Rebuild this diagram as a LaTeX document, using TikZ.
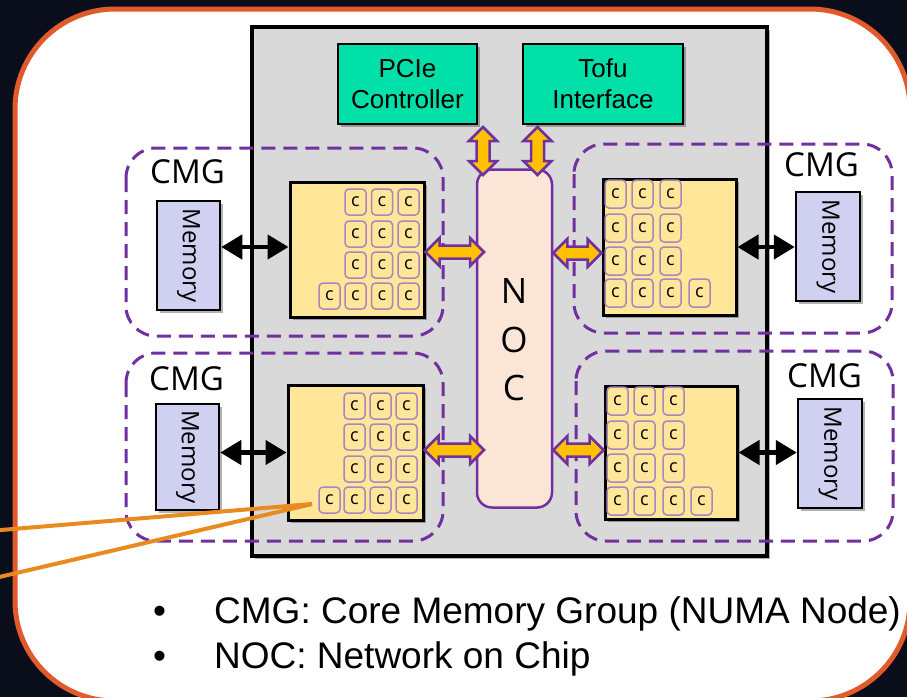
\documentclass[tikz,border=0pt]{standalone}
\usepackage{fontspec}
\setmainfont{Liberation Sans}
\newfontfamily\uifont{Open Sans}
\usetikzlibrary{shadows,arrows.meta,calc}

\definecolor{bgnavy}{HTML}{0A0E1A}
\definecolor{panelorange}{HTML}{E05A2B}
\definecolor{chipgray}{HTML}{D9D9D9}
\definecolor{ifgreen}{HTML}{00E0A8}
\definecolor{coreyellow}{HTML}{FFE699}
\definecolor{memlav}{HTML}{D0D0F0}
\definecolor{nocpeach}{HTML}{FBE5D6}
\definecolor{cmgpurple}{HTML}{7030A0}
\definecolor{corepurple}{HTML}{A886BE}
\definecolor{busgold}{HTML}{FFC000}
\definecolor{calloutorange}{HTML}{E98A1E}

% fat two-headed bus arrow between two points (outlined polygon)
\newcommand\busarrow[2]{%
  \coordinate (ba-a) at ($(#1)!14pt!(#2)$);
  \coordinate (ba-b) at ($(#2)!14pt!(#1)$);
  \path[bus] (#1)
    -- ($(ba-a)!14pt!90:(#2)$) -- ($(ba-a)!6.5pt!90:(#2)$)
    -- ($(ba-b)!6.5pt!-90:(#1)$) -- ($(ba-b)!14pt!-90:(#1)$)
    -- (#2)
    -- ($(ba-b)!14pt!90:(#1)$) -- ($(ba-b)!6.5pt!90:(#1)$)
    -- ($(ba-a)!6.5pt!-90:(#2)$) -- ($(ba-a)!14pt!-90:(#2)$)
    -- cycle;
}

\begin{document}
\begin{tikzpicture}[x=1pt,y=-1pt,
  shade/.style={drop shadow={shadow xshift=3pt,shadow yshift=-3pt,opacity=0.3,fill=black}},
  chipbox/.style={draw=black,line width=4,fill=chipgray,inner sep=0,shade},
  ifbox/.style={draw=black,line width=2.5,fill=ifgreen,inner sep=0,shade,align=center,
    font=\fontsize{26}{31}\selectfont},
  coreblock/.style={draw=black,line width=3,fill=coreyellow,inner sep=0,shade},
  corecell/.style={draw=corepurple,line width=1.5,rounded corners=4,inner sep=0,
    minimum width=21,font=\uifont\fontsize{18}{18}\selectfont},
  membox/.style={draw=black,line width=2.5,fill=memlav,inner sep=0,shade},
  memtext/.style={rotate=-90,inner sep=0,font=\uifont\fontsize{24}{24}\selectfont},
  nocbox/.style={draw=cmgpurple,line width=2.5,fill=nocpeach,rounded corners=15,inner sep=0},
  noctext/.style={inner sep=0,font=\uifont\fontsize{35}{35}\selectfont},
  cmgframe/.style={draw=cmgpurple,line width=3,dash pattern=on 14pt off 8pt,rounded corners=30},
  cmglabel/.style={anchor=base west,inner sep=0,font=\uifont\fontsize{33}{33}\selectfont},
  memlink/.style={line width=4.5,{Triangle[length=21pt,width=24pt]}-{Triangle[length=21pt,width=24pt]}},
  bus/.style={draw=cmgpurple,line width=2.5,fill=busgold,line join=miter},
  callout/.style={draw=calloutorange,line width=4},
  bullettext/.style={anchor=base west,inner sep=0,font=\fontsize{37}{37}\selectfont}
]
\useasboundingbox (0,0) rectangle (907,697);
\fill[bgnavy] (0,0) rectangle (907,697);
\draw[panelorange,line width=5,fill=white,rounded corners=100] (15,9) rectangle (910,701);

% chip
\node[chipbox,minimum width=515,minimum height=529] (chip) at (509.5,291.5) {};

% CMG groups
\draw[cmgframe] (126,148) rectangle (443,336);
\draw[cmgframe] (126,353) rectangle (443,541);
\draw[cmgframe] (574,144) rectangle (892,333);
\draw[cmgframe] (576,351) rectangle (893,541);
\node[cmglabel] (cmgTL) at (150,183) {CMG};
\node[cmglabel] (cmgBL) at (149,390) {CMG};
\node[cmglabel] (cmgTR) at (784,176) {CMG};
\node[cmglabel] (cmgBR) at (787,387) {CMG};

% interfaces
\node[ifbox,minimum width=139,minimum height=80] (pcie) at (407.5,84) {PCIe\\Controller};
\node[ifbox,minimum width=160,minimum height=80] (tofu) at (603,84) {Tofu\\Interface};

% network on chip
\node[nocbox,minimum width=75,minimum height=338] (noc) at (514.5,338.5) {};
\node[noctext] (nocN) at (514,291) {N};
\node[noctext] (nocO) at (514,340) {O};
\node[noctext] (nocC) at (514,388) {C};

% core blocks
\node[coreblock,minimum width=134,minimum height=135] (coreTL) at (357,249.5) {};
\node[coreblock,minimum width=133,minimum height=136] (coreTR) at (669.5,247) {};
\node[coreblock,minimum width=135,minimum height=135] (coreBL) at (355.5,452.5) {};
\node[coreblock,minimum width=132,minimum height=133] (coreBR) at (671,452.5) {};

% cores, top left block
\foreach \y [count=\r] in {189,221,252,283}
  \foreach \x [count=\c] in {345,371.5,398}
    \node[corecell,minimum height=26] (tl\r\c) at (\x+10.5,\y+13) {c};
\node[corecell,minimum height=26] (tl40) at (329.5,296) {c};
% cores, bottom left block
\foreach \y [count=\r] in {393,424,456,487}
  \foreach \x [count=\c] in {344,370,396}
    \node[corecell,minimum height=26] (bl\r\c) at (\x+10.5,\y+13) {c};
\node[corecell,minimum height=26] (bl40) at (329.5,500) {c};
% cores, top right block
\foreach \y [count=\r] in {180,214,247,279}
  \foreach \x [count=\c] in {605,632,660}
    \node[corecell,minimum height=28] (tr\r\c) at (\x+10.5,\y+14) {c};
\node[corecell,minimum height=28] (tr44) at (699.5,293) {c};
% cores, bottom right block
\foreach \y [count=\r] in {387,421,454,487}
  \foreach \x [count=\c] in {607,634,663}
    \node[corecell,minimum height=28] (br\r\c) at (\x+10.5,\y+14) {c};
\node[corecell,minimum height=28] (br44) at (701.5,501) {c};

% memories
\node[membox,minimum width=63,minimum height=109] (memTL) at (188.5,255.5) {};
\node[membox,minimum width=63,minimum height=106] (memBL) at (187.5,457) {};
\node[membox,minimum width=64,minimum height=109] (memTR) at (828,246.5) {};
\node[membox,minimum width=64,minimum height=109] (memBR) at (830,453.5) {};
\node[memtext] (memTLt) at (memTL) {Memory};
\node[memtext] (memBLt) at (memBL) {Memory};
\node[memtext] (memTRt) at (memTR) {Memory};
\node[memtext] (memBRt) at (memBR) {Memory};

% memory links
\draw[memlink] (memTL.east |- 0,247) -- (coreTL.west |- 0,247);
\draw[memlink] (memBL.east |- coreBL.west) -- (coreBL.west);
\draw[memlink] (coreTR.east) -- (memTR.west |- coreTR.east);
\draw[memlink] (coreBR.east) -- (memBR.west |- coreBR.east);

% on-chip buses
\coordinate (busTLa) at (coreTL.east |- 0,252);
\coordinate (busTLb) at (484,252);
\coordinate (busBLa) at (coreBL.east |- 0,450);
\coordinate (busBLb) at (484,450);
\coordinate (busTRa) at (noc.east |- 0,253);
\coordinate (busTRb) at (coreTR.west |- 0,253);
\coordinate (busBRa) at (noc.east |- 0,450);
\coordinate (busBRb) at (coreBR.west |- 0,450);
\coordinate (busPa) at (483,127);
\coordinate (busPb) at (483,175);
\coordinate (busTa) at (537.5,127);
\coordinate (busTb) at (537.5,175);
\busarrow{busTLa}{busTLb}
\busarrow{busBLa}{busBLb}
\busarrow{busTRa}{busTRb}
\busarrow{busBRa}{busBRb}
\busarrow{busPa}{busPb}
\busarrow{busTa}{busTb}

% callout from the bottom left block
\coordinate (calloutTip) at (312,504);
\coordinate (calloutA) at (-5,530.5);
\coordinate (calloutB) at (-5,578);
\draw[callout] (calloutA) -- (calloutTip) -- (calloutB);

% legend
\node[bullettext] (b1) at (153,623) {•};
\node[bullettext] (t1) at (214,623) {CMG: Core Memory Group (NUMA Node)};
\node[bullettext] (b2) at (153,668) {•};
\node[bullettext] (t2) at (214,668) {NOC: Network on Chip};
\end{tikzpicture}
\end{document}
